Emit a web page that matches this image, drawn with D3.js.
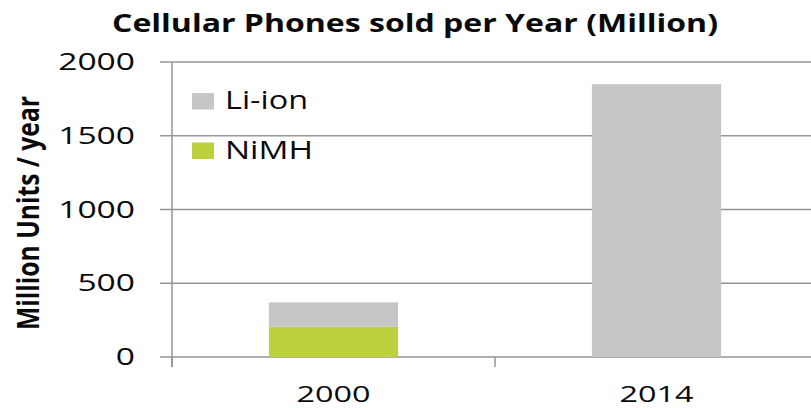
<!DOCTYPE html>
<html>
<head>
<meta charset="utf-8">
<script src="https://cdn.jsdelivr.net/npm/d3@7"></script>
<style>
  html, body { margin: 0; padding: 0; background: #fff; }
  svg { display: block; }
  text { font-family: "Open Sans", "DejaVu Sans", sans-serif; fill: #0a0a0a; }
</style>
</head>
<body>
<svg id="chart" width="811" height="408"></svg>
<script>
// ---- data ----
const categories = ["2000", "2014"];
const nimhValues = [205, 0];
const liIonValues = [165, 1850];
const seriesNames = ["Li-ion", "NiMH"];
const seriesColors = ["#c6c6c6", "#bcd13d"];
const yTicks = [0, 500, 1000, 1500, 2000];
const titleText = "Cellular Phones sold per Year (Million)";
const yAxisTitle = "Million Units / year";

// ---- layout ----
const W = 811, H = 408;
const plotLeft = 172, plotRight = 818, plotTop = 62, plotBottom = 357;
const svg = d3.select("#chart");

const x = d3.scaleBand().domain(categories).range([plotLeft, plotRight]).padding(0);
const y = d3.scaleLinear().domain([0, 2000]).range([plotBottom, plotTop]);
const barW = x.bandwidth() * 0.4;

// gridlines (with left tick extension)
svg.append("g").selectAll("line").data(yTicks).join("line")
  .attr("x1", plotLeft - 12).attr("x2", W)
  .attr("y1", d => y(d)).attr("y2", d => y(d))
  .attr("stroke", "#959595").attr("stroke-width", 1.5);

// y axis line
svg.append("line")
  .attr("x1", plotLeft).attr("x2", plotLeft)
  .attr("y1", y(2000)).attr("y2", plotBottom + 10)
  .attr("stroke", "#959595").attr("stroke-width", 1.5);

// x ticks between categories
const xTickPos = categories.map((c, i) => x(c) + x.bandwidth()).concat([plotLeft]);
svg.append("g").selectAll("line").data(xTickPos).join("line")
  .attr("x1", d => d).attr("x2", d => d)
  .attr("y1", plotBottom).attr("y2", plotBottom + 10)
  .attr("stroke", "#959595").attr("stroke-width", 1.5);

// stacked bars
const rows = categories.map((c, i) => ({cat: c, nimh: nimhValues[i], li: liIonValues[i]}));
const stack = d3.stack().keys(["nimh", "li"])(rows);
const colorFor = {nimh: seriesColors[1], li: seriesColors[0]};
svg.append("g").selectAll("g").data(stack).join("g")
  .attr("fill", s => colorFor[s.key])
  .selectAll("rect").data(s => s).join("rect")
  .attr("x", d => x(d.data.cat) + (x.bandwidth() - barW) / 2)
  .attr("width", barW)
  .attr("y", d => y(d[1]))
  .attr("height", d => Math.max(0, y(d[0]) - y(d[1])));

// y tick labels
svg.append("g").selectAll("text").data(yTicks).join("text")
  .attr("x", 135).attr("y", d => y(d) + 8)
  .attr("text-anchor", "end")
  .attr("font-size", 23)
  .attr("textLength", d => String(d).length * 19.2)
  .attr("lengthAdjust", "spacingAndGlyphs")
  .text(d => d);

// x labels
svg.append("g").selectAll("text").data(categories).join("text")
  .attr("x", d => x(d) + x.bandwidth() / 2).attr("y", 402)
  .attr("text-anchor", "middle")
  .attr("font-size", 22)
  .attr("textLength", 74)
  .attr("lengthAdjust", "spacingAndGlyphs")
  .text(d => d);

// title
svg.append("text")
  .attr("x", 415).attr("y", 32)
  .attr("text-anchor", "middle")
  .attr("font-size", 24.5).attr("font-weight", "bold")
  .attr("textLength", 606)
  .attr("lengthAdjust", "spacingAndGlyphs")
  .text(titleText);

// y axis title
svg.append("text")
  .attr("transform", "translate(39,213) rotate(-90)")
  .attr("text-anchor", "middle")
  .attr("font-size", 31).attr("font-weight", "bold")
  .attr("textLength", 234)
  .attr("lengthAdjust", "spacingAndGlyphs")
  .text(yAxisTitle);

// legend
const legendTextW = [83, 88];
const legend = svg.append("g").selectAll("g").data(seriesNames).join("g")
  .attr("transform", (d, i) => `translate(192,${93 + i * 49.5})`);
legend.append("rect")
  .attr("width", 22).attr("height", 16.5)
  .attr("fill", (d, i) => seriesColors[i]);
legend.append("text")
  .attr("x", 33).attr("y", 16)
  .attr("font-size", 25)
  .attr("textLength", (d, i) => legendTextW[i])
  .attr("lengthAdjust", "spacingAndGlyphs")
  .text(d => d);
</script>
</body>
</html>
